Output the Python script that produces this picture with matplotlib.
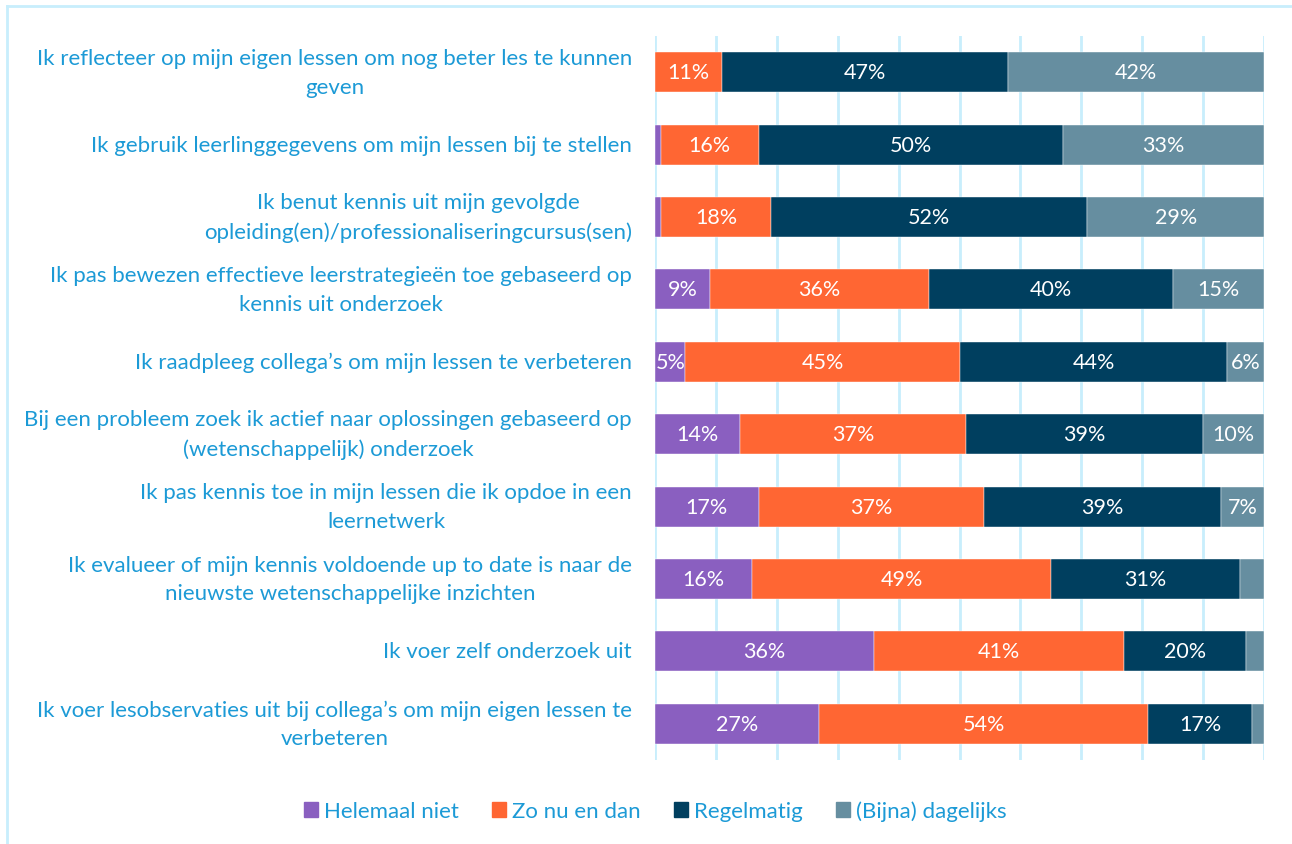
import matplotlib
matplotlib.use("Agg")
import matplotlib.pyplot as plt
from matplotlib.lines import Line2D
import numpy as np

categories = [
    "Ik reflecteer op mijn eigen lessen om nog beter les te kunnen\ngeven",
    "Ik gebruik leerlinggegevens om mijn lessen bij te stellen",
    "Ik benut kennis uit mijn gevolgde\nopleiding(en)/professionaliseringcursus(sen)",
    "Ik pas bewezen effectieve leerstrategieën toe gebaseerd op\nkennis uit onderzoek",
    "Ik raadpleeg collega’s om mijn lessen te verbeteren",
    "Bij een probleem zoek ik actief naar oplossingen gebaseerd op\n(wetenschappelijk) onderzoek",
    "Ik pas kennis toe in mijn lessen die ik opdoe in een\nleernetwerk",
    "Ik evalueer of mijn kennis voldoende up to date is naar de\nnieuwste wetenschappelijke inzichten",
    "Ik voer zelf onderzoek uit",
    "Ik voer lesobservaties uit bij collega’s om mijn eigen lessen te\nverbeteren",
]
series_names = ["Helemaal niet", "Zo nu en dan", "Regelmatig", "(Bijna) dagelijks"]
helemaal_niet = [0, 1, 1, 9, 5, 14, 17, 16, 36, 27]
zo_nu_en_dan = [11, 16, 18, 36, 45, 37, 37, 49, 41, 54]
regelmatig = [47, 50, 52, 40, 44, 39, 39, 31, 20, 17]
bijna_dagelijks = [42, 33, 29, 15, 6, 10, 7, 4, 3, 2]
colors = ["#8a5fc0", "#ff6633", "#003f5f", "#668ea0"]

text_blue = "#1c9ad6"
grid_blue = "#c8eefc"
plt.rcParams["font.family"] = ["Lato", "DejaVu Sans"]

fig = plt.figure(figsize=(12.92, 8.45), dpi=100)
ax = fig.add_axes([655/1292, 1-761/845, (1264-655)/1292, (761-37)/845])

data = [helemaal_niet, zo_nu_en_dan, regelmatig, bijna_dagelijks]
y = np.arange(len(categories))
left = np.zeros(len(categories))
for vals, name, col in zip(data, series_names, colors):
    vals = np.array(vals, dtype=float)
    ax.barh(y, vals, left=left, height=0.555, color=col, label=name,
            edgecolor="white", linewidth=0.3, zorder=3)
    for yi, v, l in zip(y, vals, left):
        if v >= 5:
            ax.text(l + v/2, yi, f"{int(v)}%", ha="center", va="center",
                    color="white", fontsize=15.5, zorder=4)
    left += vals

ax.set_xlim(0, 100)
ax.set_ylim(len(categories)-0.5, -0.5)
ax.set_xticks(np.arange(0, 101, 10))
ax.set_xticklabels([])
ax.tick_params(axis="x", length=0)
ax.grid(axis="x", color=grid_blue, linewidth=2, zorder=0)
ax.set_yticks(y)
ax.set_yticklabels(categories, color=text_blue, fontsize=16, linespacing=1.55)
ax.tick_params(axis="y", length=0, pad=16.5)
for lbl in ax.get_yticklabels():
    lbl.set_horizontalalignment("right")
    lbl.set_multialignment("center")
    lbl.set_verticalalignment("center")
for s in ax.spines.values():
    s.set_visible(False)

handles = [plt.Rectangle((0, 0), 1, 1, color=c) for c in colors]
leg = fig.legend(handles, series_names, loc="center", bbox_to_anchor=(655/1292, 1-812/845),
                 ncol=4, frameon=False, fontsize=16, handlelength=0.65, handleheight=0.65,
                 handletextpad=0.25, columnspacing=1.5)
for t in leg.get_texts():
    t.set_color(text_blue)

# border lines (top and left)
fig.add_artist(Line2D([7/1292, 1], [1-7/845, 1-7/845], color=grid_blue, linewidth=2, transform=fig.transFigure))
fig.add_artist(Line2D([7/1292, 7/1292], [0, 1-7/845], color=grid_blue, linewidth=2, transform=fig.transFigure))

fig.savefig("out.png", dpi=100)
